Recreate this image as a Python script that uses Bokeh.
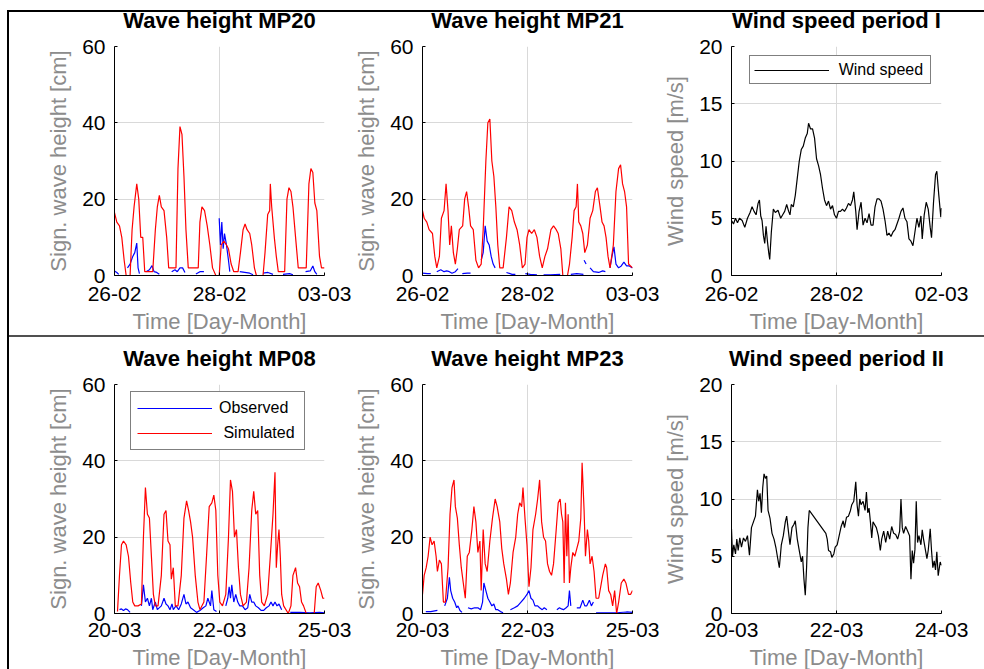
import numpy as np
from bokeh.plotting import figure
from bokeh.models import Range1d, FixedTicker, Legend, LegendItem, Spacer, Title, Span
from bokeh.layouts import row, column
from bokeh.embed import file_html
from bokeh.resources import INLINE

NaN = float("nan")

# ---------------- data (time in days from start of period, value) ----------------
x_ticks = [0, 2, 4]
wave1_tick_labels = ["26-02", "28-02", "03-03"]
wind1_tick_labels = ["26-02", "28-02", "02-03"]
wave2_tick_labels = ["20-03", "22-03", "25-03"]
wind2_tick_labels = ["20-03", "22-03", "24-03"]
wave_y_ticks = [0, 20, 40, 60]
wind_y_ticks = [0, 5, 10, 15, 20]

mp20_sim = [(0.00, 16.5), (0.044, 14), (0.095, 13), (0.139, 10), (0.184, 4), (0.222, 0), (0.297, 0),
            (0.335, 12), (0.373, 18), (0.424, 24), (0.462, 20), (0.500, 10), (0.538, 10), (0.576, 1),
            (0.614, 1), (0.728, 1), (0.778, 12), (0.816, 18), (0.854, 21), (0.892, 18), (0.943, 17),
            (0.994, 10), (1.032, 2), (1.171, 2), (1.209, 28), (1.247, 39), (1.285, 37), (1.323, 26),
            (1.361, 12), (1.405, 2), (1.595, 2), (1.627, 14), (1.665, 18), (1.715, 17), (1.766, 13),
            (1.816, 8), (1.867, 2), (1.930, 0), (1.994, 0), (2.032, 8), (2.082, 9), (2.133, 8),
            (2.171, 7), (2.222, 3), (2.272, 1), (2.354, 1), (2.399, 6), (2.449, 12), (2.487, 13.5),
            (2.525, 12), (2.576, 11), (2.614, 8), (2.665, 2), (2.703, 0), (2.829, 0), (2.867, 6),
            (2.918, 16), (2.956, 17), (2.968, 24), (2.994, 18), (3.044, 10), (3.082, 5), (3.120, 1),
            (3.241, 1), (3.285, 20), (3.323, 23), (3.361, 22), (3.399, 18), (3.449, 10), (3.500, 2),
            (3.652, 2), (3.703, 24), (3.741, 28), (3.778, 27), (3.816, 19), (3.854, 17), (3.905, 5),
            (3.943, 2), (4.0, 2)]
mp20_obs = [(0.00, 1.2), (0.044, 0.8), (0.082, 0.3), (0.15, NaN),
            (0.247, 2), (0.297, 3), (0.348, 5), (0.386, 6), (0.424, 8.5), (0.449, 2), (0.475, 0.5), (0.54, NaN),
            (0.601, 1), (0.665, 1.5), (0.715, 2.6), (0.753, 1), (0.804, 0.8), (0.854, 0.3), (0.95, NaN),
            (1.089, 1), (1.152, 1.5), (1.196, 1), (1.247, 2), (1.297, 2), (1.342, 0.8), (1.45, NaN),
            (1.551, 0.4), (1.627, 1), (1.703, 1), (1.85, NaN),
            (1.994, 15), (2.019, 8), (2.044, 14), (2.070, 7), (2.095, 11), (2.133, 8), (2.171, 4), (2.196, 1), (2.29, NaN),
            (2.386, 1), (2.481, 0.8), (2.576, 0.6), (2.639, 0.2), (2.73, NaN),
            (2.829, 0.6), (2.924, 0.8), (3.019, 0.3), (3.11, NaN),
            (3.209, 0.3), (3.335, 0.5), (3.399, 0.2), (3.52, NaN),
            (3.639, 1), (3.728, 1.2), (3.778, 2.5), (3.816, 1), (3.854, 0.3)]

mp21_sim = [(0.00, 17), (0.032, 15), (0.082, 14), (0.126, 12), (0.190, 11), (0.234, 5), (0.272, 2),
            (0.322, 5), (0.360, 15), (0.411, 17), (0.449, 24), (0.486, 17), (0.518, 8), (0.550, 13),
            (0.588, 6), (0.626, 3), (0.664, 7), (0.701, 12), (0.765, 13), (0.803, 20), (0.840, 22),
            (0.878, 18), (0.916, 13), (0.967, 12), (1.017, 4), (1.068, 2), (1.118, 3), (1.156, 12),
            (1.207, 30), (1.245, 40), (1.283, 41), (1.321, 30), (1.359, 26), (1.397, 18), (1.434, 8),
            (1.472, 2), (1.536, 2), (1.599, 10), (1.649, 18), (1.700, 17), (1.750, 14), (1.801, 12),
            (1.851, 8), (1.902, 2), (1.953, 3), (1.991, 10), (2.028, 12), (2.079, 11), (2.130, 12),
            (2.180, 10), (2.231, 5), (2.281, 2), (2.332, 5), (2.382, 7), (2.446, 12), (2.496, 13),
            (2.547, 12), (2.585, 11), (2.635, 7), (2.673, 0), (2.762, 0), (2.800, 3), (2.850, 10),
            (2.888, 17), (2.926, 18), (2.951, 24), (2.977, 14), (3.015, 13), (3.053, 11), (3.091, 6),
            (3.141, 8), (3.192, 15), (3.243, 17), (3.293, 22), (3.331, 23), (3.382, 18), (3.420, 14),
            (3.458, 13), (3.496, 10), (3.534, 5), (3.572, 2), (3.635, 8), (3.685, 22), (3.735, 28),
            (3.773, 29), (3.811, 24), (3.849, 22), (3.887, 18), (3.925, 3), (3.962, 2.5), (4.0, 2)]
mp21_obs = [(0.00, 0.6), (0.095, 0.5), (0.158, 0.5), (0.21, NaN),
            (0.272, 1), (0.348, 1.5), (0.411, 1), (0.461, 1.2), (0.512, 1), (0.562, 0.6), (0.626, 1), (0.676, 1.8), (0.72, NaN),
            (0.758, 0.5), (0.853, 0.6), (0.916, 0.6), (1.0, NaN),
            (1.118, 4), (1.156, 6), (1.194, 13), (1.232, 9), (1.270, 8), (1.308, 5), (1.346, 3), (1.384, 2), (1.48, NaN),
            (1.599, 0.8), (1.706, 0.3), (1.769, 0.3), (1.86, NaN),
            (1.959, 0.5), (2.054, 0.3), (2.180, 0.2), (2.24, NaN),
            (2.306, 0.2), (2.433, 0.2), (2.623, 0.3), (2.72, NaN),
            (2.825, 0.3), (2.939, 0.5), (3.065, 0.3), (3.07, NaN),
            (3.078, 4), (3.116, 3), (3.15, NaN),
            (3.192, 2), (3.255, 1), (3.356, 0.8), (3.432, 1.2), (3.483, 1), (3.53, NaN),
            (3.572, 2), (3.609, 5), (3.647, 7.5), (3.685, 3), (3.735, 2), (3.786, 2.5), (3.836, 3.5),
            (3.887, 2.5), (3.938, 2.5), (4.0, 2)]

wind1 = [(0.00, 4.8), (0.038, 4.5), (0.076, 5.0), (0.114, 4.6), (0.152, 5.0), (0.203, 4.8), (0.253, 4.2),
         (0.304, 5.0), (0.354, 5.5), (0.392, 6.0), (0.430, 5.6), (0.468, 5.3), (0.506, 6.3), (0.532, 6.6),
         (0.557, 5.2), (0.582, 4.8), (0.608, 3.5), (0.633, 2.8), (0.658, 4.3), (0.684, 3.0), (0.709, 2.0),
         (0.728, 1.4), (0.759, 3.8), (0.797, 5.8), (0.835, 5.5), (0.886, 5.7), (0.937, 5.0), (0.975, 5.3),
         (1.013, 5.6), (1.051, 6.2), (1.089, 5.6), (1.114, 5.3), (1.139, 6.2), (1.177, 6.0), (1.215, 7.0),
         (1.253, 8.5), (1.291, 10.0), (1.329, 11.0), (1.367, 11.3), (1.405, 12.0), (1.443, 12.4),
         (1.468, 13.3), (1.506, 12.8), (1.544, 12.8), (1.582, 12.0), (1.620, 10.2), (1.658, 9.6),
         (1.696, 8.8), (1.734, 7.6), (1.772, 6.6), (1.810, 6.1), (1.848, 6.5), (1.886, 5.8), (1.924, 6.1),
         (1.962, 5.3), (2.000, 5.0), (2.038, 5.6), (2.076, 5.6), (2.114, 5.8), (2.152, 5.6), (2.190, 5.9),
         (2.228, 6.3), (2.266, 6.1), (2.304, 6.6), (2.329, 7.3), (2.367, 5.6), (2.392, 4.0), (2.430, 5.6),
         (2.468, 6.4), (2.506, 4.4), (2.544, 5.0), (2.582, 4.6), (2.620, 5.4), (2.658, 4.4), (2.696, 4.4),
         (2.734, 6.0), (2.772, 6.7), (2.810, 6.7), (2.848, 6.5), (2.886, 5.8), (2.924, 4.8), (2.962, 3.5),
         (3.000, 3.7), (3.038, 3.4), (3.076, 3.8), (3.114, 4.0), (3.152, 4.5), (3.190, 5.0), (3.228, 5.6),
         (3.266, 5.9), (3.304, 5.0), (3.342, 4.7), (3.380, 3.2), (3.418, 3.0), (3.456, 2.6), (3.494, 3.8),
         (3.532, 5.0), (3.570, 4.2), (3.608, 5.2), (3.633, 3.2), (3.671, 5.3), (3.709, 6.4), (3.747, 5.8),
         (3.785, 4.2), (3.810, 3.3), (3.848, 6.4), (3.886, 8.8), (3.911, 9.1), (3.949, 7.0), (3.987, 5.1),
         (4.0, 5.9)]

mp08_sim = [(0.057, 0.5), (0.095, 10), (0.133, 18), (0.171, 19), (0.222, 18), (0.266, 15), (0.310, 8),
            (0.348, 3), (0.386, 2), (0.449, 2), (0.513, 2.5), (0.551, 20), (0.589, 33), (0.627, 26),
            (0.665, 25), (0.703, 15), (0.741, 5), (0.778, 2), (0.829, 2), (0.892, 10), (0.943, 26),
            (0.981, 27), (1.019, 19), (1.057, 18), (1.082, 9), (1.120, 12), (1.158, 2), (1.209, 2),
            (1.272, 10), (1.323, 25), (1.373, 29.5), (1.411, 27), (1.449, 24), (1.487, 20), (1.538, 10),
            (1.589, 3), (1.627, 1), (1.703, 3), (1.753, 15), (1.804, 28), (1.854, 29), (1.892, 31),
            (1.930, 27), (1.968, 10), (2.006, 3), (2.057, 2), (2.120, 5), (2.171, 20), (2.209, 35),
            (2.247, 32), (2.285, 20), (2.323, 22), (2.361, 12), (2.399, 5), (2.449, 2), (2.513, 3),
            (2.563, 12), (2.614, 27), (2.652, 32), (2.690, 26), (2.728, 27), (2.766, 10), (2.804, 3),
            (2.854, 2), (2.918, 5), (2.968, 15), (3.019, 26), (3.057, 37), (3.082, 12), (3.108, 18),
            (3.133, 22), (3.158, 15), (3.184, 5), (3.222, 2), (3.310, 0), (3.361, 2), (3.399, 10),
            (3.449, 12), (3.487, 8), (3.525, 7), (3.563, 3), (3.601, 2), (3.652, 0), (3.804, 0),
            (3.842, 7), (3.880, 8), (3.930, 6), (3.968, 4), (4.0, 4)]
mp08_obs = [(0.095, 1), (0.133, 1.2), (0.171, 0.8), (0.209, 1.2), (0.247, 1), (0.297, 0.3), (0.40, NaN),
            (0.513, 2), (0.551, 7.5), (0.589, 3), (0.627, 4), (0.665, 2), (0.703, 4), (0.728, 1),
            (0.778, 3), (0.816, 1), (0.892, 2), (0.943, 4), (0.981, 2.5), (1.019, 2), (1.057, 1),
            (1.095, 2.5), (1.120, 1), (1.171, 2), (1.222, 1), (1.272, 2.5), (1.323, 5), (1.361, 2.5),
            (1.399, 3), (1.449, 1.5), (1.500, 1), (1.563, 0.3), (1.627, 0.8), (1.690, 1.5), (1.741, 2),
            (1.778, 4), (1.829, 2), (1.854, 6), (1.892, 1), (1.943, 0.5), (2.03, NaN),
            (2.120, 2), (2.158, 4), (2.184, 7), (2.209, 4), (2.234, 7.5), (2.272, 3), (2.310, 5),
            (2.348, 3), (2.386, 2), (2.437, 2), (2.487, 1), (2.538, 1.5), (2.576, 5), (2.614, 3),
            (2.652, 3), (2.690, 2), (2.741, 1.5), (2.791, 0.8), (2.842, 0.8), (2.892, 1.5), (2.943, 2),
            (2.981, 3), (3.019, 2), (3.057, 3), (3.095, 2), (3.133, 2.5), (3.184, 1), (3.26, NaN),
            (3.348, 0.3), (3.525, 0.3), (3.715, 0.2), (3.905, 0.3), (4.0, 0.2)]

mp23_sim = [(0.00, 5), (0.032, 10), (0.070, 12), (0.107, 15), (0.145, 20), (0.183, 18), (0.221, 19),
            (0.259, 15), (0.284, 11), (0.322, 14), (0.360, 13), (0.398, 3), (0.436, 3), (0.487, 12),
            (0.524, 26), (0.562, 33), (0.600, 35), (0.626, 28), (0.664, 25), (0.701, 18), (0.739, 12),
            (0.777, 8), (0.815, 4), (0.853, 15), (0.891, 16), (0.941, 22), (0.979, 28), (1.017, 24),
            (1.055, 16), (1.093, 19), (1.118, 6), (1.156, 22), (1.194, 13), (1.232, 11), (1.283, 19),
            (1.333, 25), (1.384, 30), (1.422, 28), (1.472, 24), (1.510, 17), (1.548, 13), (1.599, 9),
            (1.636, 5), (1.674, 8), (1.725, 16), (1.776, 20), (1.813, 26), (1.851, 29), (1.889, 28),
            (1.914, 33), (1.952, 25), (1.990, 18), (2.028, 7), (2.066, 12), (2.104, 22), (2.155, 26),
            (2.193, 30), (2.231, 35), (2.269, 24), (2.306, 20), (2.344, 19), (2.382, 13), (2.420, 11),
            (2.458, 10), (2.496, 13), (2.547, 22), (2.585, 29), (2.622, 30), (2.648, 26), (2.673, 24),
            (2.698, 8), (2.723, 29), (2.749, 15), (2.774, 26), (2.799, 8), (2.825, 12), (2.863, 16),
            (2.901, 15), (2.939, 17), (2.977, 19), (3.015, 25), (3.040, 39.5), (3.078, 27), (3.104, 15),
            (3.141, 22), (3.166, 19), (3.192, 13), (3.230, 15), (3.268, 11), (3.306, 4), (3.356, 4),
            (3.394, 7), (3.432, 10), (3.483, 13), (3.508, 12), (3.546, 6), (3.584, 5), (3.622, 2),
            (3.660, 6), (3.698, 0), (3.736, 3), (3.786, 8), (3.836, 9), (3.874, 8), (3.924, 5),
            (3.962, 5), (4.0, 6)]
mp23_obs = [(0.063, 0.5), (0.158, 0.5), (0.284, 0.8), (0.36, NaN),
            (0.423, 2), (0.474, 4), (0.512, 9.5), (0.537, 6), (0.575, 4), (0.613, 3), (0.651, 1.5),
            (0.676, 2), (0.714, 0.8), (0.752, 0.3), (0.81, NaN),
            (0.866, 1.5), (0.929, 1.2), (0.992, 1.5), (1.055, 1.5), (1.106, 1), (1.144, 3), (1.169, 8),
            (1.207, 6), (1.245, 4), (1.283, 3), (1.321, 2), (1.359, 2.5), (1.396, 1), (1.434, 1),
            (1.485, 0.5), (1.535, 0.2), (1.60, NaN),
            (1.674, 1), (1.750, 1.5), (1.813, 2), (1.876, 3), (1.939, 4), (1.990, 5), (2.028, 6),
            (2.066, 4), (2.104, 3.5), (2.142, 2), (2.193, 2), (2.230, 1.5), (2.281, 1), (2.319, 1.5),
            (2.370, 1), (2.46, NaN),
            (2.559, 1), (2.609, 1.5), (2.647, 1.2), (2.685, 1), (2.736, 1.5), (2.774, 2), (2.799, 6),
            (2.825, 2), (2.88, NaN),
            (2.939, 1.5), (3.002, 1.5), (3.053, 3.5), (3.091, 2), (3.129, 2), (3.179, 3.5), (3.217, 2),
            (3.255, 3), (3.28, NaN),
            (3.306, 0.2), (3.508, 0.2), (3.698, 0.2), (3.887, 0.4), (4.0, 0.3)]

wind2 = [(0.00, 7.4), (0.019, 5.0), (0.044, 6.0), (0.076, 5.2), (0.101, 6.5), (0.127, 5.5), (0.158, 6.6),
         (0.190, 5.8), (0.228, 6.6), (0.266, 6.3), (0.304, 6.8), (0.342, 5.1), (0.380, 7.5), (0.418, 8.0),
         (0.456, 8.5), (0.494, 10.8), (0.519, 9.8), (0.544, 10.5), (0.570, 8.8), (0.595, 11.0),
         (0.620, 12.2), (0.646, 11.8), (0.671, 12.0), (0.696, 9.0), (0.734, 8.3), (0.772, 7.0),
         (0.810, 6.5), (0.848, 5.7), (0.873, 5.0), (0.911, 4.0), (0.949, 6.0), (0.987, 6.8), (1.025, 8.0),
         (1.051, 8.5), (1.089, 7.0), (1.114, 6.0), (1.152, 7.5), (1.190, 7.8), (1.215, 8.1), (1.253, 6.5),
         (1.291, 5.5), (1.329, 4.5), (1.354, 5.0), (1.380, 3.0), (1.405, 1.6), (1.430, 4.0), (1.456, 7.5),
         (1.481, 9.0), (1.797, 7.0), (1.823, 6.5), (1.848, 5.5), (1.886, 5.4), (1.911, 4.9), (1.949, 5.2),
         (1.975, 5.8), (2.013, 6.0), (2.051, 6.8), (2.089, 7.6), (2.127, 8.1), (2.152, 7.5), (2.190, 8.4),
         (2.228, 8.5), (2.266, 9.0), (2.291, 9.5), (2.329, 9.8), (2.367, 11.5), (2.392, 9.5), (2.418, 8.5),
         (2.443, 10.0), (2.468, 9.5), (2.506, 9.8), (2.544, 9.0), (2.570, 10.6), (2.595, 8.8), (2.620, 9.2),
         (2.646, 8.0), (2.671, 6.6), (2.696, 8.0), (2.722, 7.8), (2.759, 7.5), (2.797, 6.8), (2.835, 5.5),
         (2.861, 6.5), (2.899, 7.2), (2.937, 6.2), (2.975, 7.2), (3.013, 6.5), (3.051, 7.6), (3.089, 7.0),
         (3.127, 6.9), (3.165, 6.5), (3.203, 7.2), (3.228, 10.0), (3.253, 7.5), (3.278, 7.0), (3.316, 7.6),
         (3.354, 7.2), (3.392, 6.8), (3.418, 3.0), (3.443, 5.5), (3.468, 4.4), (3.494, 5.6), (3.519, 9.8),
         (3.544, 6.2), (3.570, 6.8), (3.608, 6.0), (3.633, 7.3), (3.658, 6.5), (3.696, 5.5), (3.722, 4.8),
         (3.747, 5.5), (3.785, 7.4), (3.810, 5.5), (3.835, 4.0), (3.861, 4.6), (3.886, 3.8), (3.911, 5.4),
         (3.937, 3.3), (3.975, 4.5), (4.0, 4.2)]

# ---------------- styling ----------------
FONT = "Liberation Sans"
GRID = "#d9d9d9"
LABEL_GRAY = "#8c8c8c"
OBS_COLOR = "#0000ff"
SIM_COLOR = "#ff0000"


def cols(pairs):
    a = np.array(pairs, dtype=float)
    return a[:, 0], a[:, 1]


def panel(title, tick_labels, ymax, yticks, ylabel, left, right, bottom,
          xlab_standoff, xaxis_label_standoff):
    p = figure(title=None, tools="", frame_width=211, frame_height=229,
               x_range=Range1d(0, 4), y_range=Range1d(0, ymax),
               output_backend="svg", toolbar_location=None,
               min_border_left=left, min_border_right=right,
               min_border_top=46, min_border_bottom=bottom)
    # small empty gap panel next to the frame, then the bold panel title above it
    p.add_layout(Title(text=" ", text_font_size="1px", standoff=11), "above")
    p.add_layout(Title(text=title, align="center", vertical_align="bottom", standoff=0,
                       text_font=FONT, text_font_size="22px", text_font_style="bold",
                       text_color="black"), "above")
    p.outline_line_color = None
    p.background_fill_color = "white"
    p.border_fill_color = None

    p.xaxis.ticker = FixedTicker(ticks=x_ticks)
    p.xaxis.major_label_overrides = {t: lab for t, lab in zip(x_ticks, tick_labels)}
    p.yaxis.ticker = FixedTicker(ticks=yticks)
    p.xgrid.ticker = FixedTicker(ticks=x_ticks)
    p.ygrid.ticker = FixedTicker(ticks=yticks)
    p.grid.grid_line_color = GRID
    p.grid.grid_line_width = 1

    for ax in (p.xaxis[0], p.yaxis[0]):
        ax.axis_line_color = "black"
        ax.axis_line_width = 1
        ax.major_tick_line_color = "black"
        ax.major_tick_in = 3
        ax.major_tick_out = 0
        ax.minor_tick_line_color = None
        ax.major_label_text_font = FONT
        ax.major_label_text_font_size = "21px"
        ax.major_label_text_color = "black"
        ax.axis_label_text_font = FONT
        ax.axis_label_text_font_size = "22px"
        ax.axis_label_text_font_style = "normal"
        ax.axis_label_text_color = LABEL_GRAY

    p.xaxis.axis_label = "Time [Day-Month]"
    p.yaxis.axis_label = ylabel
    p.xaxis.major_label_standoff = xlab_standoff
    p.xaxis.axis_label_standoff = xaxis_label_standoff
    p.yaxis.major_label_standoff = 9
    p.yaxis.axis_label_standoff = 8
    return p


def wave_lines(p, sim, obs):
    ts, hs = cols(sim)
    to, ho = cols(obs)
    r_obs = p.line(to, ho, line_color=OBS_COLOR, line_width=1.2)
    r_sim = p.line(ts, hs, line_color=SIM_COLOR, line_width=1.2)
    return r_obs, r_sim


WAVE_LABEL = "Sign. wave height [cm]"
WIND_LABEL = "Wind speed [m/s]"

# top row
p1 = panel("Wave height MP20", wave1_tick_labels, 60, wave_y_ticks, WAVE_LABEL, 105, 27, 60, 11, 5)
wave_lines(p1, mp20_sim, mp20_obs)

p2 = panel("Wave height MP21", wave1_tick_labels, 60, wave_y_ticks, WAVE_LABEL, 70, 27, 60, 11, 5)
wave_lines(p2, mp21_sim, mp21_obs)

p3 = panel("Wind speed period I", wind1_tick_labels, 20, wind_y_ticks, WIND_LABEL, 70, 43, 60, 11, 5)
tw, vw = cols(wind1)
rw = p3.line(tw, vw, line_color="black", line_width=1.2)
leg3 = Legend(items=[LegendItem(label="Wind speed", renderers=[rw])],
              location=(18, 191), glyph_width=75, glyph_height=16, label_standoff=10,
              padding=4, spacing=0, margin=0, label_height=19, label_width=87,
              label_text_font=FONT, label_text_font_size="16px", label_text_color="black",
              border_line_color="black", border_line_width=1, background_fill_alpha=1.0)
p3.add_layout(leg3)

# bottom row
p4 = panel("Wave height MP08", wave2_tick_labels, 60, wave_y_ticks, WAVE_LABEL, 105, 27, 58, 9, 5)
r_obs4, r_sim4 = wave_lines(p4, mp08_sim, mp08_obs)
leg4 = Legend(items=[LegendItem(label="Observed", renderers=[r_obs4]),
                     LegendItem(label=" Simulated", renderers=[r_sim4])],
              location=(16, 163), glyph_width=75, glyph_height=16, label_standoff=7,
              padding=6, spacing=5, margin=0, label_height=20, label_width=79,
              label_text_font=FONT, label_text_font_size="16px", label_text_color="black",
              border_line_color="black", border_line_width=1, background_fill_alpha=1.0)
p4.add_layout(leg4)
# a span lying on the x-axis line, drawn after the legend
p4.add_layout(Span(location=0, dimension="width", line_color="black", line_width=1))

p5 = panel("Wave height MP23", wave2_tick_labels, 60, wave_y_ticks, WAVE_LABEL, 70, 27, 58, 9, 5)
wave_lines(p5, mp23_sim, mp23_obs)

p6 = panel("Wind speed period II", wind2_tick_labels, 20, wind_y_ticks, WIND_LABEL, 70, 43, 58, 9, 5)
tw2, vw2 = cols(wind2)
p6.line(tw2, vw2, line_color="black", line_width=1.2)

# page frame: top line, left line and separator between the two rows, drawn as the
# background of the whole layout (the figures have transparent borders)
frame_styles = {
    "background-color": "white",
    "background-image": ("linear-gradient(#000000, #000000), linear-gradient(#000000, #000000), "
                         "linear-gradient(#505050, #505050)"),
    "background-size": "977px 2px, 2px 659px, 977px 2px",
    "background-position": "7px 10px, 7px 10px, 7px 335px",
    "background-repeat": "no-repeat",
    "overflow": "hidden",
}

layout = column(row(Spacer(width=9, height=10), p1, p2, p3),
                Spacer(width=984, height=2),
                row(Spacer(width=9, height=10), p4, p5, p6),
                height=669, width=984, styles=frame_styles)

open("out.html", "w").write(file_html(layout, INLINE))
